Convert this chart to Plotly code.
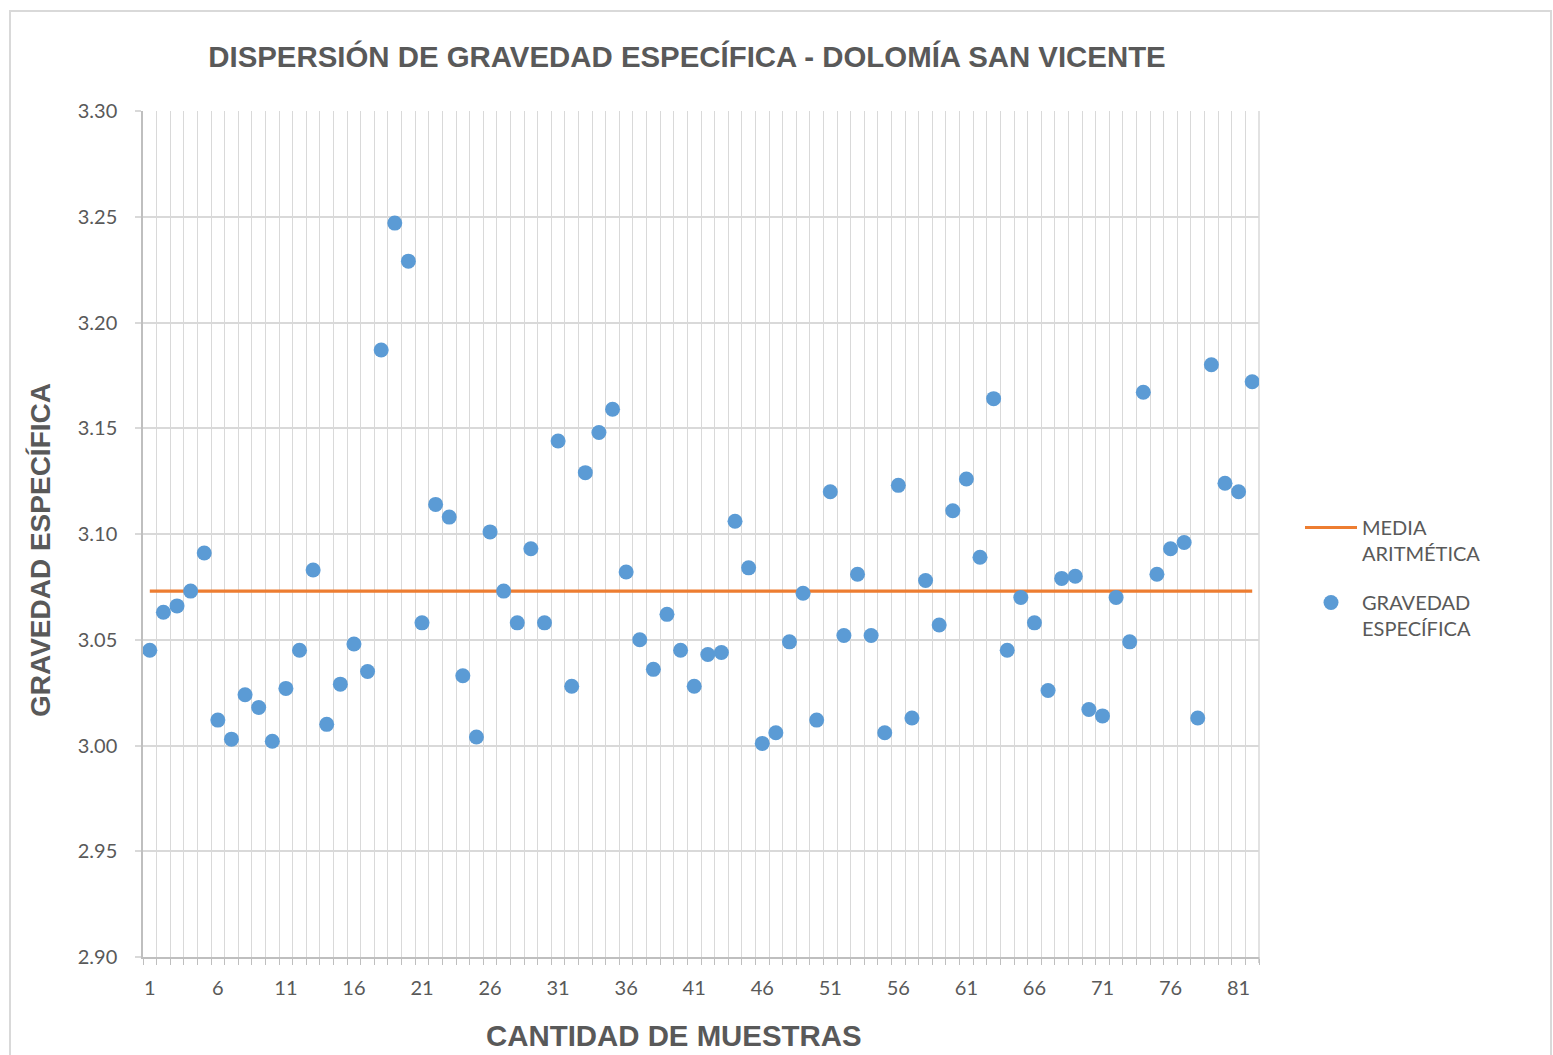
import plotly.graph_objects as go

# ---------------- data ----------------
muestras = list(range(1, 83))

gravedad_especifica = [
    3.045, 3.063, 3.066, 3.073, 3.091, 3.012, 3.003, 3.024, 3.018, 3.002,
    3.027, 3.045, 3.083, 3.010, 3.029, 3.048, 3.035, 3.187, 3.247, 3.229,
    3.058, 3.114, 3.108, 3.033, 3.004, 3.101, 3.073, 3.058, 3.093, 3.058,
    3.144, 3.028, 3.129, 3.148, 3.159, 3.082, 3.050, 3.036, 3.062, 3.045,
    3.028, 3.043, 3.044, 3.106, 3.084, 3.001, 3.006, 3.049, 3.072, 3.012,
    3.120, 3.052, 3.081, 3.052, 3.006, 3.123, 3.013, 3.078, 3.057, 3.111,
    3.126, 3.089, 3.164, 3.045, 3.070, 3.058, 3.026, 3.079, 3.080, 3.017,
    3.014, 3.070, 3.049, 3.167, 3.081, 3.093, 3.096, 3.013, 3.180, 3.124,
    3.120, 3.172,
]

media_aritmetica = 3.073
media_line = [media_aritmetica] * len(muestras)

x_tick_vals = [1, 6, 11, 16, 21, 26, 31, 36, 41, 46, 51, 56, 61, 66, 71, 76, 81]
x_tick_text = ["1", "6", "11", "16", "21", "26", "31", "36", "41", "46", "51",
               "56", "61", "66", "71", "76", "81"]
y_tick_vals = [2.90, 2.95, 3.00, 3.05, 3.10, 3.15, 3.20, 3.25, 3.30]
y_tick_text = ["2.90", "2.95", "3.00", "3.05", "3.10", "3.15", "3.20", "3.25", "3.30"]

# ---------------- styling ----------------
W, H = 1553, 1055
L, R, T, B = 143, 1259, 111, 957   # plot area in px
PW, PH = R - L, B - T

def px_x(x):
    return (x - L) / PW

def px_y(y):
    return (B - y) / PH

GRAY_TXT = "#595959"
GRID = "#D9D9D9"
AXIS = "#BFBFBF"
TICK_FONT = dict(family="Lato, Open Sans, sans-serif", size=20, color=GRAY_TXT)
TITLE_FONT = dict(family="Liberation Sans, Arial, sans-serif", size=29.4, color=GRAY_TXT)

fig = go.Figure()
fig.add_trace(go.Scatter(
    x=muestras, y=media_line, mode="lines",
    name="MEDIA<br>ARITMÉTICA",
    line=dict(color="#ED7D31", width=3.2),
    legendgroup="a",
))
fig.add_trace(go.Scatter(
    x=muestras, y=gravedad_especifica, mode="markers",
    name="GRAVEDAD<br>ESPECÍFICA",
    marker=dict(color="#5B9BD5", size=15, line=dict(width=0)),
    legendgroup="b",
))

fig.update_layout(
    width=W, height=H,
    margin=dict(l=L, r=W - R, t=T, b=H - B, pad=0),
    paper_bgcolor="white", plot_bgcolor="white",
    title=dict(
        text="<b>DISPERSIÓN DE GRAVEDAD ESPECÍFICA - DOLOMÍA SAN VICENTE</b>",
        x=687 / W, xanchor="center", y=1 - 57 / H, yanchor="middle",
        font=TITLE_FONT,
    ),
    xaxis=dict(
        range=[0.5, 82.5],
        tickmode="array", tickvals=x_tick_vals, ticktext=x_tick_text,
        showgrid=False, ticks="", zeroline=False,
        showline=True, linecolor=AXIS, linewidth=1.5,
        tickfont=TICK_FONT, ticklabelstandoff=12,
        minor=dict(tickmode="linear", tick0=0.5, dtick=1, showgrid=True,
                   gridcolor=GRID, gridwidth=1.3, ticks="outside",
                   ticklen=6, tickcolor=AXIS, tickwidth=1.3),
    ),
    yaxis=dict(
        range=[2.90, 3.30],
        tickmode="array", tickvals=y_tick_vals, ticktext=y_tick_text,
        showgrid=True, gridcolor=GRID, gridwidth=1.6,
        ticks="outside", ticklen=6, tickcolor=GRID, tickwidth=1.6,
        showline=True, linecolor=AXIS, linewidth=1.5, zeroline=False,
        tickfont=TICK_FONT, ticklabelstandoff=14,
    ),
    legend=dict(
        x=px_x(1300), xanchor="left", y=px_y(508), yanchor="top",
        font=dict(family="Lato, Open Sans, sans-serif", size=20, color=GRAY_TXT),
        valign="top", itemwidth=52, tracegroupgap=20,
        bgcolor="rgba(0,0,0,0)", borderwidth=0,
    ),
    showlegend=True,
    annotations=[
        dict(text="<b>CANTIDAD DE MUESTRAS</b>", xref="paper", yref="paper",
             x=px_x(673.5), y=px_y(1035), xanchor="center", yanchor="middle",
             showarrow=False, font=TITLE_FONT),
        dict(text="<b>GRAVEDAD ESPECÍFICA</b>", xref="paper", yref="paper",
             x=px_x(40), y=px_y(550), xanchor="center", yanchor="middle",
             textangle=-90, showarrow=False,
             font=dict(family="Liberation Sans, Arial, sans-serif", size=28, color=GRAY_TXT)),
    ],
    shapes=[
        dict(type="rect", xref="paper", yref="paper",
             x0=px_x(10), x1=px_x(1551), y0=px_y(1070), y1=px_y(11),
             line=dict(color=GRID, width=2), fillcolor="rgba(0,0,0,0)", layer="below"),
        # right-hand boundary gridline of the category axis
        dict(type="line", xref="paper", yref="paper", x0=1, x1=1, y0=0, y1=1,
             line=dict(color=GRID, width=1.5), layer="below"),
        # tick mark below the right boundary
        dict(type="line", xref="paper", yref="paper", x0=1, x1=1, y0=0, y1=-6 / PH,
             line=dict(color=AXIS, width=1.3), layer="below"),
    ],
)

fig.write_html(
    "out.html",
    config={"displayModeBar": False},
    post_script="document.body.style.margin='0';document.body.style.overflow='hidden';",
)
